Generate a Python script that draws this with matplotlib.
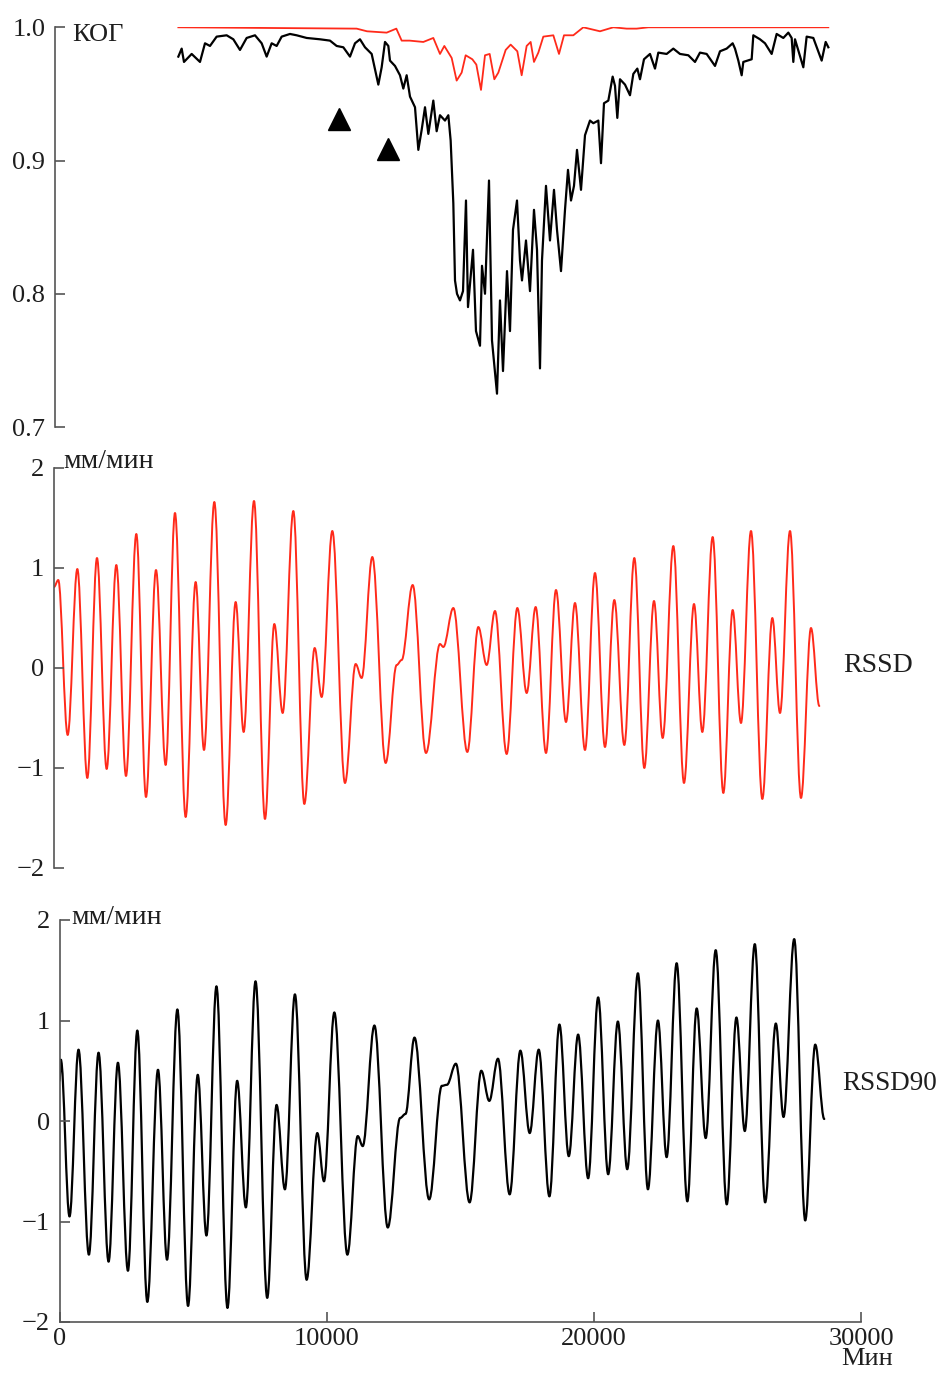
import matplotlib
matplotlib.use("Agg")
import matplotlib.pyplot as plt
from matplotlib.path import Path
from matplotlib.patches import PathPatch

W, H = 939, 1373

# ---- top panel: КОГ (coherence) ----
kog_black_x = [4625, 4750, 4837, 5125, 5437, 5625, 5812, 6062, 6437, 6687, 6937, 7187, 7500, 7750,
               7937, 8125, 8312, 8500, 8812, 9062, 9437, 9937, 10312, 10562, 10812, 11062, 11250,
               11437, 11625, 11875, 12062, 12125, 12250, 12375, 12500, 12562, 12750, 12937, 13062,
               13187, 13312, 13500, 13625, 13750, 13875, 14000, 14187, 14312, 14437, 14625, 14750,
               14837, 14937, 15000, 15075, 15187, 15300, 15412, 15487, 15675, 15787, 15937, 16012,
               16125, 16275, 16387, 16575, 16687, 16800, 16950, 17062, 17175, 17325, 17437, 17512,
               17662, 17812, 17962, 18075, 18187, 18262, 18412, 18562, 18712, 18825, 18975, 19125,
               19237, 19350, 19462, 19575, 19725, 19875, 20062, 20187, 20375, 20475, 20587, 20750,
               20912, 21000, 21087, 21187, 21375, 21562, 21687, 21837, 21937, 22087, 22312, 22500,
               22625, 22937, 23187, 23437, 23750, 24000, 24187, 24437, 24750, 24937, 25187, 25412,
               25500, 25625, 25750, 25812, 26125, 26187, 26437, 26625, 26875, 27062, 27312, 27500,
               27625, 27687, 27750, 28062, 28187, 28437, 28750, 28900, 29000]
kog_black_y = [0.978, 0.984, 0.974, 0.980, 0.974, 0.988, 0.986, 0.993, 0.994, 0.991, 0.983, 0.992,
               0.994, 0.988, 0.978, 0.988, 0.986, 0.993, 0.995, 0.994, 0.992, 0.991, 0.990, 0.986,
               0.985, 0.978, 0.988, 0.991, 0.985, 0.980, 0.963, 0.957, 0.970, 0.989, 0.986, 0.975,
               0.971, 0.964, 0.954, 0.964, 0.948, 0.940, 0.908, 0.923, 0.940, 0.920, 0.945, 0.922,
               0.934, 0.930, 0.934, 0.915, 0.868, 0.810, 0.800, 0.795, 0.802, 0.870, 0.790, 0.833,
               0.772, 0.761, 0.821, 0.800, 0.885, 0.765, 0.725, 0.795, 0.742, 0.817, 0.772, 0.848,
               0.870, 0.825, 0.810, 0.840, 0.802, 0.863, 0.833, 0.744, 0.825, 0.881, 0.840, 0.878,
               0.848, 0.817, 0.863, 0.893, 0.870, 0.881, 0.908, 0.878, 0.919, 0.930, 0.928, 0.930,
               0.898, 0.943, 0.945, 0.963, 0.956, 0.932, 0.961, 0.957, 0.949, 0.965, 0.969, 0.961,
               0.976, 0.980, 0.969, 0.981, 0.980, 0.984, 0.980, 0.979, 0.974, 0.981, 0.980, 0.971,
               0.982, 0.984, 0.988, 0.984, 0.975, 0.964, 0.974, 0.976, 0.994, 0.991, 0.988, 0.980,
               0.995, 0.992, 0.996, 0.992, 0.974, 0.991, 0.970, 0.993, 0.992, 0.975, 0.989, 0.985]
kog_red_x = [4625, 11312, 11700, 12437, 12800, 13000, 13300, 13812, 14187, 14437, 14600, 14875,
             15062, 15125, 15250, 15400, 15650, 15800, 15975, 16125, 16300, 16475, 16625, 16900,
             17087, 17337, 17500, 17687, 17837, 17962, 18125, 18312, 18687, 18900, 19087, 19437,
             19812, 20437, 20937, 21437, 21812, 22250, 29000]
kog_red_y = [1.000, 0.999, 0.997, 0.996, 0.999, 0.990, 0.990, 0.989, 0.992, 0.980, 0.986, 0.977,
             0.960, 0.962, 0.966, 0.979, 0.976, 0.972, 0.953, 0.979, 0.980, 0.961, 0.966, 0.983,
             0.987, 0.982, 0.964, 0.986, 0.989, 0.974, 0.981, 0.993, 0.994, 0.980, 0.994, 0.994,
             1.000, 0.997, 1.000, 0.999, 0.999, 1.000, 1.000]
marker_x = [10650, 12487]
marker_y = [0.931, 0.9085]

# ---- middle panel: RSSD (extrema) ----
rssd_x = [0, 160, 513, 875, 1250, 1612, 1975, 2337, 2700, 3087, 3450, 3825, 4187, 4537, 4937, 5312,
          5625, 6012, 6437, 6812, 7112, 7500, 7912, 8262, 8575, 8975, 9387, 9775, 10037, 10437,
          10912, 11312, 11537, 11937, 12437, 12850, 13037, 13450, 13950, 14475, 14600, 14975,
          15500, 15912, 16225, 16537, 16975, 17375, 17725, 18062, 18450, 18825, 19200, 19537,
          19912, 20287, 20662, 21012, 21387, 21762, 22137, 22500, 22825, 23225, 23625, 24000,
          24312, 24700, 25100, 25450, 25762, 26137, 26562, 26937, 27225, 27600, 28012, 28387, 28700]
rssd_y = [0.81, 0.88, -0.67, 0.99, -1.10, 1.10, -1.01, 1.03, -1.08, 1.34, -1.29, 0.98, -0.97, 1.55,
          -1.49, 0.86, -0.82, 1.66, -1.57, 0.66, -0.64, 1.67, -1.51, 0.44, -0.45, 1.57, -1.36, 0.20,
          -0.29, 1.37, -1.15, 0.04, -0.10, 1.11, -0.95, 0.03, 0.08, 0.83, -0.85, 0.24, 0.21, 0.60,
          -0.84, 0.41, 0.03, 0.57, -0.86, 0.60, -0.25, 0.61, -0.85, 0.78, -0.54, 0.65, -0.82, 0.95,
          -0.79, 0.68, -0.77, 1.10, -1.00, 0.67, -0.70, 1.22, -1.15, 0.64, -0.64, 1.31, -1.25, 0.58,
          -0.55, 1.37, -1.31, 0.50, -0.45, 1.37, -1.30, 0.40, -0.38]

# ---- bottom panel: RSSD90 (extrema) ----
rssd90_x = [0, 50, 375, 712, 1100, 1462, 1837, 2187, 2562, 2912, 3287, 3687, 4025, 4412, 4812, 5175,
            5500, 5875, 6287, 6650, 6975, 7337, 7775, 8125, 8437, 8812, 9250, 9650, 9900, 10287,
            10775, 11162, 11350, 11787, 12287, 12750, 12950, 13287, 13837, 14312, 14500, 14837,
            15350, 15787, 16087, 16412, 16850, 17250, 17600, 17937, 18337, 18712, 19062, 19412,
            19787, 20162, 20537, 20900, 21250, 21650, 22025, 22400, 22725, 23100, 23500, 23850,
            24187, 24562, 24975, 25337, 25650, 26025, 26412, 26812, 27100, 27500, 27912, 28287, 28625]
rssd90_y = [0.40, 0.61, -0.95, 0.71, -1.33, 0.68, -1.40, 0.58, -1.49, 0.90, -1.80, 0.51, -1.38, 1.11,
            -1.84, 0.46, -1.14, 1.34, -1.86, 0.40, -0.86, 1.39, -1.76, 0.16, -0.68, 1.26, -1.58,
            -0.12, -0.60, 1.08, -1.33, -0.15, -0.25, 0.95, -1.06, 0.03, 0.07, 0.83, -0.78, 0.35,
            0.36, 0.57, -0.81, 0.50, 0.20, 0.62, -0.73, 0.70, -0.12, 0.71, -0.75, 0.96, -0.35, 0.86,
            -0.57, 1.23, -0.53, 0.99, -0.48, 1.47, -0.68, 1.00, -0.36, 1.57, -0.80, 1.12, -0.17,
            1.70, -0.83, 1.03, -0.10, 1.76, -0.81, 0.97, 0.04, 1.81, -0.99, 0.76, 0.02]

xticks_bottom = [0, 10000, 20000, 30000]
kog_ticks = [0.7, 0.8, 0.9, 1.0]
kog_ticklabels = ["0.7", "0.8", "0.9", "1.0"]
rssd_ticks = [-2, -1, 0, 1, 2]
rssd_ticklabels = ["\u22122", "\u22121", "0", "1", "2"]

plt.rcParams['font.family'] = ['Liberation Serif', 'DejaVu Serif']
FS = 19
FS_LAB = 20
RED = '#ff2a1a'
SPINE = '#555555'
TXT = '#1e1e1e'

fig = plt.figure(figsize=(W / 100, H / 100), dpi=100)


def add_ax(left_px, top_px, bottom_px, right_px):
    return fig.add_axes([left_px / W, 1 - bottom_px / H, (right_px - left_px) / W,
                         (bottom_px - top_px) / H])


def style(ax, show_x=False):
    for s in ['top', 'right']:
        ax.spines[s].set_visible(False)
    ax.spines['left'].set_color(SPINE)
    ax.spines['left'].set_linewidth(1.2)
    ax.tick_params(axis='y', direction='in', length=7, width=1.2, color=SPINE,
                   labelsize=FS, pad=7, labelcolor=TXT)
    if show_x:
        ax.spines['bottom'].set_color(SPINE)
        ax.spines['bottom'].set_linewidth(1.2)
        ax.tick_params(axis='x', direction='in', length=7, width=1.2, color=SPINE,
                       labelsize=FS, pad=4, labelcolor=TXT)
    else:
        ax.spines['bottom'].set_visible(False)
        ax.set_xticks([])


def smooth_curve(ax, xs, ys, color, lw):
    """Draw a wave through the read extrema with flat tangents at each extremum."""
    verts = [(xs[0], ys[0])]
    codes = [Path.MOVETO]
    k = 0.36
    for i in range(len(xs) - 1):
        dx = xs[i + 1] - xs[i]
        verts += [(xs[i] + k * dx, ys[i]), (xs[i + 1] - k * dx, ys[i + 1]), (xs[i + 1], ys[i + 1])]
        codes += [Path.CURVE4] * 3
    ax.add_patch(PathPatch(Path(verts, codes), fill=False, edgecolor=color, lw=lw,
                           joinstyle='round', capstyle='round'))


# Top
ax1 = add_ax(55, 27.3, 427, 855)
ax1.plot(kog_red_x, kog_red_y, color=RED, lw=1.3)
ax1.plot(kog_black_x, kog_black_y, color='black', lw=1.6)
ax1.plot(marker_x, marker_y, linestyle='none', marker='^', color='black', markersize=16)
ax1.set_xlim(0, 30000)
ax1.set_ylim(0.7, 1.0)
ax1.set_yticks(kog_ticks)
ax1.set_yticklabels(kog_ticklabels)
style(ax1)

# Middle
ax2 = add_ax(54, 468, 868, 854)
smooth_curve(ax2, rssd_x, rssd_y, RED, 1.4)
ax2.set_xlim(0, 30000)
ax2.set_ylim(-2, 2)
ax2.set_yticks(rssd_ticks)
ax2.set_yticklabels(rssd_ticklabels)
style(ax2)

# Bottom
ax3 = add_ax(59.5, 920, 1322, 861)
smooth_curve(ax3, rssd90_x, rssd90_y, 'black', 1.6)
ax3.set_xlim(0, 30000)
ax3.set_ylim(-2, 2)
ax3.set_yticks(rssd_ticks)
ax3.set_yticklabels(rssd_ticklabels)
ax3.set_xticks(xticks_bottom)
ax3.set_xticklabels([str(v) for v in xticks_bottom])
style(ax3, show_x=True)


def ftext(px, py, s, ha='left', va='center', fs=FS_LAB):
    fig.text(px / W, 1 - py / H, s, ha=ha, va=va, fontsize=fs, color=TXT)


ftext(72, 35, "КОГ", fs=FS)
ftext(63, 461, "мм/мин")
ftext(71, 918, "мм/мин")
ftext(843, 666, "RSSD")
ftext(937, 1084, "RSSD90", ha='right', fs=19.5)
ftext(893, 1359, "Мин", ha='right', fs=19)

fig.savefig("out.png", dpi=100)
